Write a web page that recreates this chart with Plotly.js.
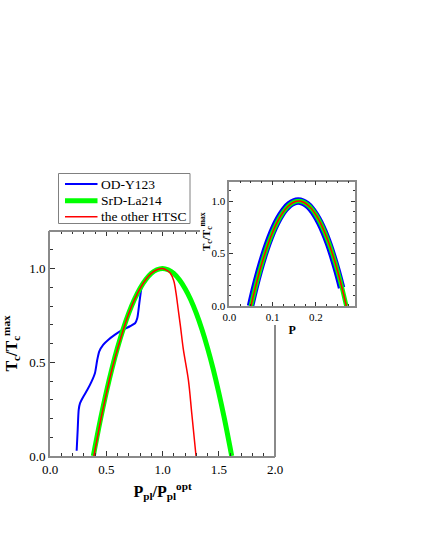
<!DOCTYPE html>
<html>
<head>
<meta charset="utf-8">
<script src="https://cdn.plot.ly/plotly-3.0.1.min.js"></script>
<style>html,body{margin:0;padding:0;background:#fff;}#chart{width:425px;height:550px;}</style>
</head>
<body>
<div id="chart"></div>
<script>
// ---- Main panel data (P_pl / P_pl^opt vs Tc / Tc^max) ----
const seriesNames = ['OD-Y123', 'SrD-La214', 'the other HTSC'];
const seriesColors = ['#0000ff', '#00ff00', '#ff0000'];

const blueX = [0.237,0.246,0.255,0.267,0.296,0.332,0.370,0.400,0.420,0.438,0.474,0.519,0.578,0.637,0.711,0.756,0.776,0.794,0.806,0.818,0.830];
const blueY = [0.028,0.139,0.246,0.282,0.316,0.353,0.398,0.443,0.513,0.558,0.594,0.620,0.647,0.670,0.692,0.708,0.736,0.816,0.870,0.914,0.930];

const greenX = [0.385,0.40,0.45,0.50,0.55,0.60,0.65,0.70,0.75,0.80,0.85,0.90,0.95,1.00,1.05,1.10,1.15,1.20,1.25,1.30,1.35,1.40,1.45,1.50,1.55,1.60,1.615];
const greenY = [0,0.048,0.20,0.339,0.465,0.577,0.676,0.762,0.835,0.894,0.94,0.974,0.993,1.0,0.993,0.974,0.94,0.894,0.835,0.762,0.676,0.577,0.465,0.339,0.20,0.048,0];

const redX = [0.39,0.40,0.45,0.50,0.55,0.60,0.65,0.70,0.75,0.80,0.85,0.90,0.95,1.00,1.04,1.07,1.10,1.12,1.14,1.16,1.185,1.23,1.26,1.298];
const redY = [0,0.03,0.19,0.33,0.46,0.57,0.67,0.76,0.833,0.893,0.94,0.974,0.993,1.0,0.99,0.975,0.935,0.87,0.78,0.69,0.57,0.406,0.228,0];

// ---- Inset data (P vs Tc / Tc^max) ----
const insetBlueP = [0.049,0.059,0.069,0.079,0.089,0.099,0.109,0.119,0.129,0.139,0.149,0.159,0.169,0.179,0.189,0.199,0.209,0.219,0.229,0.239,0.249,0.259];
const insetBlueT = [0,0.174,0.331,0.471,0.595,0.703,0.794,0.868,0.926,0.967,0.992,1.0,0.992,0.967,0.926,0.868,0.794,0.703,0.595,0.471,0.331,0.174];
const insetP = [0.05,0.06,0.07,0.08,0.09,0.10,0.11,0.12,0.13,0.14,0.15,0.16,0.17,0.18,0.19,0.20,0.21,0.22,0.23,0.24,0.25,0.26,0.27];
const insetT = [0,0.174,0.331,0.471,0.595,0.703,0.794,0.868,0.926,0.967,0.992,1.0,0.992,0.967,0.926,0.868,0.794,0.703,0.595,0.471,0.331,0.174,0];

// ---- titles ----
const mainXTitle = '<b>P<sub>pl</sub>/P<sub>pl</sub><sup>opt</sup></b>';
const mainYTitle = '<b>T<sub>c</sub>/T<sub>c</sub><sup>max</sup></b>';
const insetXTitle = '<b>P</b>';
const insetYTitle = '<b>T<sub>c</sub>/T<sub>c</sub><sup>max</sup></b>';

const FONT = 'Liberation Serif';
const AXC = '#8a8a8a';
const TKC = '#333';
const W = 425, H = 550;
const px = v => v / W;
const py = v => (H - v) / H;

const traces = [
  {x: blueX, y: blueY, name: seriesNames[0], mode: 'lines', line: {color: seriesColors[0], width: 2, shape: 'spline', smoothing: 0.6}, xaxis: 'x', yaxis: 'y'},
  {x: greenX, y: greenY, name: seriesNames[1], mode: 'lines', line: {color: seriesColors[1], width: 5, shape: 'spline'}, xaxis: 'x', yaxis: 'y'},
  {x: redX, y: redY, name: seriesNames[2], mode: 'lines', line: {color: seriesColors[2], width: 1.5, shape: 'spline'}, xaxis: 'x', yaxis: 'y'},
  {x: insetBlueP, y: insetBlueT, mode: 'lines', line: {color: seriesColors[0], width: 7.5, shape: 'spline'}, xaxis: 'x2', yaxis: 'y2'},
  {x: insetP, y: insetT, mode: 'lines', line: {color: seriesColors[1], width: 4.5, shape: 'spline'}, xaxis: 'x2', yaxis: 'y2'},
  {x: insetP, y: insetT, mode: 'lines', line: {color: seriesColors[2], width: 1.5, shape: 'spline'}, xaxis: 'x2', yaxis: 'y2'},
  {x: [], y: [], mode: 'lines', xaxis: 'x3', yaxis: 'y', hoverinfo: 'skip'}
];

const tickFont = {family: FONT, size: 13, color: '#000'};
const insetTickFont = {family: FONT, size: 11, color: '#000'};

// legend drawn as a framed box with line samples and text
const legRowY = [184, 200.7, 216.7];
const legWidths = [2, 5, 1.5];
const legendShapes = [
  {type: 'rect', xref: 'paper', yref: 'paper', x0: px(58.5), x1: px(190), y0: py(173.5), y1: py(223.5),
   line: {color: '#808080', width: 1}, fillcolor: '#fff', layer: 'above'}
].concat(seriesNames.map((n, i) => ({
  type: 'line', xref: 'paper', yref: 'paper', x0: px(65), x1: px(97.5), y0: py(legRowY[i]), y1: py(legRowY[i]),
  line: {color: seriesColors[i], width: legWidths[i]}, layer: 'above'
})));
const legendTexts = seriesNames.map((n, i) => ({
  text: n, xref: 'paper', yref: 'paper', x: px(98.5), y: py(legRowY[i]), xanchor: 'left', yanchor: 'middle',
  showarrow: false, font: {family: FONT, size: 13.5, color: '#000'}
}));

const layout = {
  width: W, height: H,
  margin: {l: 0, r: 0, t: 0, b: 0},
  paper_bgcolor: '#fff', plot_bgcolor: '#fff',
  showlegend: false,
  xaxis: {
    domain: [px(50), px(275)], range: [0, 2], anchor: 'y',
    dtick: 0.5, tick0: 0, tickformat: '.1f',
    ticks: 'inside', ticklen: 5, tickwidth: 1, tickcolor: TKC,
    minor: {dtick: 0.1, tick0: 0, ticks: 'inside', ticklen: 3, tickwidth: 1, tickcolor: TKC},
    showline: true, linecolor: AXC, linewidth: 2, mirror: false,
    showgrid: false, zeroline: false, tickfont: tickFont,
    title: {text: mainXTitle, font: {family: FONT, size: 16, color: '#000'}, standoff: 10}
  },
  yaxis: {
    domain: [py(456), py(231)], range: [0, 1.2], anchor: 'x',
    dtick: 0.5, tick0: 0, tickformat: '.1f',
    ticks: 'inside', ticklen: 5, tickwidth: 1, tickcolor: TKC,
    minor: {dtick: 0.1, tick0: 0, ticks: 'inside', ticklen: 3, tickwidth: 1, tickcolor: TKC},
    showline: true, linecolor: AXC, linewidth: 2, mirror: false,
    showgrid: false, zeroline: false, tickfont: tickFont,
    title: {text: mainYTitle, font: {family: FONT, size: 16, color: '#000'}, standoff: 10}
  },
  xaxis3: {
    overlaying: 'x', anchor: 'y', side: 'top', range: [0, 2],
    tickmode: 'array', tickvals: [0.5, 1.0], showticklabels: false,
    ticks: 'inside', ticklen: 5, tickwidth: 1, tickcolor: TKC,
    minor: {tickmode: 'array', tickvals: [0.1,0.2,0.3,0.4,0.6,0.7,0.8,0.9,1.1,1.2,1.3], ticks: 'inside', ticklen: 3, tickwidth: 1, tickcolor: TKC},
    showline: false, showgrid: false, zeroline: false
  },
  xaxis2: {
    domain: [px(229.3), px(355)], range: [0, 0.29], anchor: 'y2',
    dtick: 0.1, tick0: 0, tickformat: '.1f',
    ticks: 'inside', ticklen: 4, tickwidth: 1, tickcolor: TKC,
    minor: {dtick: 0.025, tick0: 0, ticks: 'inside', ticklen: 2, tickwidth: 1, tickcolor: TKC},
    showline: true, linecolor: AXC, linewidth: 1.5, mirror: 'allticks',
    showgrid: false, zeroline: false, tickfont: insetTickFont,
    title: {text: insetXTitle, font: {family: FONT, size: 12, color: '#000'}, standoff: 4}
  },
  yaxis2: {
    domain: [py(306), py(181.7)], range: [0, 1.185], anchor: 'x2',
    dtick: 0.5, tick0: 0, tickformat: '.1f',
    ticks: 'inside', ticklen: 4, tickwidth: 1, tickcolor: TKC,
    minor: {dtick: 0.1, tick0: 0, ticks: 'inside', ticklen: 2, tickwidth: 1, tickcolor: TKC},
    showline: true, linecolor: AXC, linewidth: 1.5, mirror: 'allticks',
    showgrid: false, zeroline: false, tickfont: insetTickFont
  },
  annotations: [
    {text: insetYTitle, xref: 'paper', yref: 'paper', x: px(206), y: py(232), textangle: -90,
     showarrow: false, font: {family: FONT, size: 11, color: '#000'}, xanchor: 'center', yanchor: 'middle'}
  ].concat(legendTexts),
  shapes: [
    {type: 'line', xref: 'paper', yref: 'paper', x0: px(49), x1: px(200), y0: py(231), y1: py(231), line: {color: AXC, width: 2}},
    {type: 'line', xref: 'paper', yref: 'paper', x0: px(275), x1: px(275), y0: py(457), y1: py(325), line: {color: AXC, width: 2}}
  ].concat(legendShapes)
};

Plotly.newPlot('chart', traces, layout, {displayModeBar: false});
</script>
</body>
</html>
